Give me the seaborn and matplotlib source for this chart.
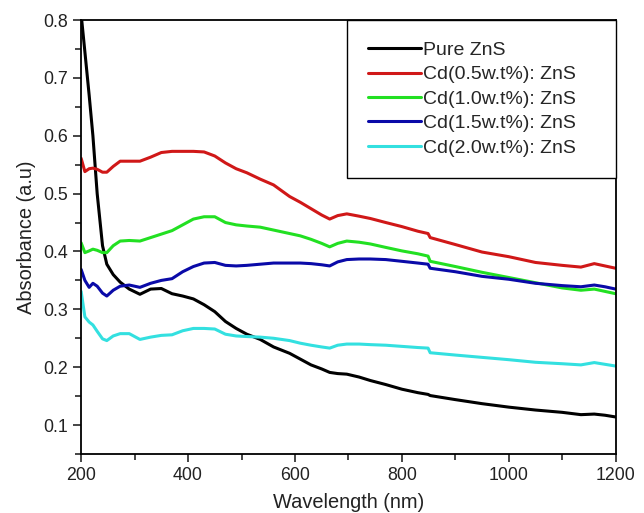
import numpy as np
import pandas as pd
import seaborn as sns
import matplotlib.pyplot as plt
from matplotlib.ticker import MultipleLocator

wavelength = [200, 207, 215, 222, 230, 240, 248, 260, 273, 290, 310, 330, 350, 370, 390,
              410, 430, 450, 470, 490, 510, 535, 560, 590, 610, 630, 650, 665, 680, 697,
              720, 741, 770, 800, 830, 849, 853, 900, 950, 1000, 1050, 1100, 1135, 1160,
              1180, 1200]

pure_zns = [0.81, 0.745, 0.67, 0.60, 0.50, 0.41, 0.378, 0.36, 0.347, 0.335, 0.326, 0.335,
            0.336, 0.327, 0.323, 0.318, 0.308, 0.296, 0.279, 0.267, 0.257, 0.248, 0.235,
            0.224, 0.214, 0.204, 0.197, 0.191, 0.189, 0.188, 0.183, 0.177, 0.170, 0.162,
            0.156, 0.153, 0.151, 0.144, 0.137, 0.131, 0.126, 0.122, 0.118, 0.119, 0.117,
            0.114]

cd_05 = [0.561, 0.538, 0.543, 0.544, 0.542, 0.537, 0.537, 0.547, 0.556, 0.556, 0.556, 0.563,
         0.571, 0.573, 0.573, 0.573, 0.572, 0.565, 0.553, 0.543, 0.536, 0.525, 0.515, 0.495,
         0.485, 0.474, 0.463, 0.456, 0.462, 0.465, 0.461, 0.457, 0.450, 0.443, 0.435, 0.431,
         0.424, 0.412, 0.399, 0.391, 0.381, 0.376, 0.373, 0.379, 0.375, 0.371]

cd_10 = [0.415, 0.398, 0.401, 0.404, 0.402, 0.398, 0.398, 0.410, 0.418, 0.419, 0.418, 0.424,
         0.430, 0.436, 0.446, 0.456, 0.460, 0.460, 0.450, 0.446, 0.444, 0.442, 0.437, 0.431,
         0.427, 0.421, 0.414, 0.408, 0.414, 0.418, 0.416, 0.413, 0.407, 0.401, 0.396, 0.392,
         0.383, 0.374, 0.364, 0.355, 0.346, 0.337, 0.333, 0.335, 0.331, 0.327]

cd_15 = [0.369, 0.350, 0.338, 0.345, 0.340, 0.328, 0.323, 0.333, 0.340, 0.342, 0.338, 0.345,
         0.350, 0.353, 0.365, 0.374, 0.380, 0.381, 0.376, 0.375, 0.376, 0.378, 0.380, 0.380,
         0.380, 0.379, 0.377, 0.375, 0.382, 0.386, 0.387, 0.387, 0.386, 0.383, 0.380, 0.378,
         0.371, 0.365, 0.357, 0.352, 0.345, 0.341, 0.339, 0.342, 0.339, 0.335]

cd_20 = [0.331, 0.287, 0.278, 0.273, 0.262, 0.249, 0.246, 0.254, 0.258, 0.258, 0.248, 0.252,
         0.255, 0.256, 0.263, 0.267, 0.267, 0.266, 0.257, 0.254, 0.253, 0.252, 0.250, 0.246,
         0.2415, 0.238, 0.235, 0.233, 0.238, 0.240, 0.240, 0.239, 0.238, 0.236, 0.234, 0.233,
         0.225, 0.221, 0.217, 0.213, 0.2085, 0.206, 0.204, 0.208, 0.205, 0.202]

labels = ['Pure ZnS', 'Cd(0.5w.t%): ZnS', 'Cd(1.0w.t%): ZnS', 'Cd(1.5w.t%): ZnS', 'Cd(2.0w.t%): ZnS']
colors = ['#000000', '#d01818', '#22e022', '#0a0aa8', '#33e0e0']

frames = []
for lab, vals in zip(labels, [pure_zns, cd_05, cd_10, cd_15, cd_20]):
    frames.append(pd.DataFrame({'wl': wavelength, 'abs': vals, 'sample': lab}))
df = pd.concat(frames, ignore_index=True)

sns.set_style('ticks')
plt.rcParams['font.family'] = ['Liberation Sans', 'DejaVu Sans']

fig = plt.figure(figsize=(6.44, 5.13), dpi=100)
ax = fig.add_axes([0.126, 0.115, 0.83, 0.846])

sns.lineplot(data=df, x='wl', y='abs', hue='sample', hue_order=labels,
             palette=dict(zip(labels, colors)), linewidth=2.2, ax=ax, sort=False)

ax.set_xlim(200, 1200)
ax.set_ylim(0.05, 0.8)
ax.xaxis.set_major_locator(MultipleLocator(200))
ax.xaxis.set_minor_locator(MultipleLocator(100))
ax.yaxis.set_major_locator(MultipleLocator(0.1))
ax.yaxis.set_minor_locator(MultipleLocator(0.05))
ax.tick_params(which='major', direction='out', length=6, width=1.2, labelsize=12.8,
               labelcolor='#222222', top=False, right=False)
ax.tick_params(which='minor', direction='out', length=4, width=1.2, top=False, right=False)
for side in ['left', 'bottom', 'top', 'right']:
    ax.spines[side].set_visible(True)
    ax.spines[side].set_linewidth(1.3)
    ax.spines[side].set_color('black')

ax.set_xlabel('Wavelength (nm)', fontsize=14.4, color='#222222', labelpad=6)
ax.set_ylabel('Absorbance (a.u)', fontsize=14.4, color='#222222', labelpad=5)

leg = ax.legend(loc='upper left', bbox_to_anchor=(0.497, 0.0, 0.503, 1.0), mode='expand',
                borderaxespad=0, fancybox=False, frameon=True, fontsize=14,
                handlelength=2.7, handletextpad=0.1, labelspacing=0.35, borderpad=1.1)
leg.get_frame().set_edgecolor('black')
leg.get_frame().set_linewidth(1.0)
leg.get_frame().set_alpha(1)
for line in leg.get_lines():
    line.set_linewidth(2.2)

fig.savefig('out.png', dpi=100)
